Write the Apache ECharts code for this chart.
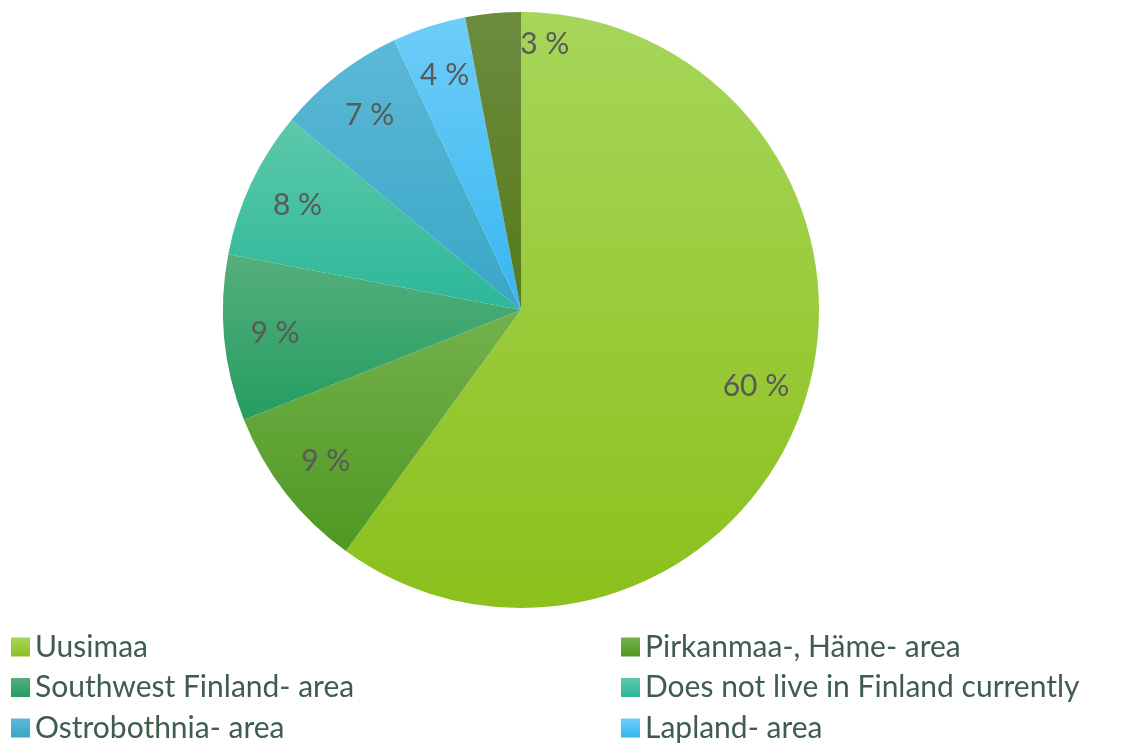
<!DOCTYPE html>
<html>
<head>
<meta charset="utf-8">
<script src="https://cdn.jsdelivr.net/npm/echarts@6/dist/echarts.min.js"></script>
<style>
  html, body { margin: 0; padding: 0; background: #fff; }
  #chart { width: 1124px; height: 744px; }
</style>
</head>
<body>
<div id="chart"></div>
<script>
// slices, clockwise from 12 o'clock
const regions = [
  "Uusimaa",
  "Pirkanmaa-, Häme- area",
  "Southwest Finland- area",
  "Does not live in Finland currently",
  "Ostrobothnia- area",
  "Lapland- area",
  "Other area"
];
const shares = [60, 9, 9, 8, 7, 4, 3];
// top / bottom colour of each slice gradient
const topColors = ["#a6d65a", "#74b14c", "#55ae7c", "#5cc9aa", "#5cb9d6", "#6ecdf9", "#6c8c40"];
const bottomColors = ["#8cc01c", "#4f9822", "#249e60", "#2db799", "#39a6c7", "#36b6ef", "#557a1a"];

// legend columns (last slice is cut off below the picture)
const legendLeft = [regions[0], regions[2], regions[4]];
const legendRight = [regions[1], regions[3], regions[5]];

const chart = echarts.init(document.getElementById("chart"));

const fill = (i) => ({
  type: "linear", x: 0, y: 0, x2: 0, y2: 1,
  colorStops: [
    { offset: 0, color: topColors[i] },
    { offset: 1, color: bottomColors[i] }
  ]
});

const pieData = regions.map((name, i) => ({
  name: name,
  value: shares[i],
  itemStyle: { color: fill(i) }
}));

// transparent ring that only carries the labels, placed towards the rim
const labelData = regions.map((name, i) => {
  const item = { name: name, value: shares[i] };
  if (i === regions.length - 1) item.label = { offset: [47, -20] };
  return item;
});

const legendText = {
  color: "#3f5d4d",
  fontSize: 30,
  lineHeight: 30,
  fontFamily: "Lato"
};

const legendBase = {
  orient: "vertical",
  top: 632,
  height: 200,
  padding: 0,
  itemWidth: 19,
  itemHeight: 19,
  itemGap: 10.5,
  icon: "rect",
  textStyle: legendText
};

chart.setOption({
  animation: false,
  legend: [
    Object.assign({ data: legendLeft, left: 11 }, legendBase),
    Object.assign({ data: legendRight, left: 621 }, legendBase)
  ],
  series: [
    {
      type: "pie",
      center: [521, 310],
      radius: [0, 298],
      startAngle: 90,
      clockwise: true,
      avoidLabelOverlap: false,
      label: { show: false },
      labelLine: { show: false },
      emphasis: { scale: false },
      itemStyle: { borderWidth: 0 },
      data: pieData
    },
    {
      type: "pie",
      center: [521, 310],
      radius: [190, 298],
      startAngle: 90,
      clockwise: true,
      silent: true,
      avoidLabelOverlap: false,
      itemStyle: { color: "rgba(0,0,0,0)", borderWidth: 0 },
      label: {
        show: true,
        position: "inside",
        color: "#595959",
        fontSize: 30,
        fontFamily: "Lato",
        formatter: (p) => Math.round(p.percent) + " %"
      },
      labelLine: { show: false },
      emphasis: { disabled: true },
      data: labelData
    }
  ]
});
</script>
</body>
</html>
